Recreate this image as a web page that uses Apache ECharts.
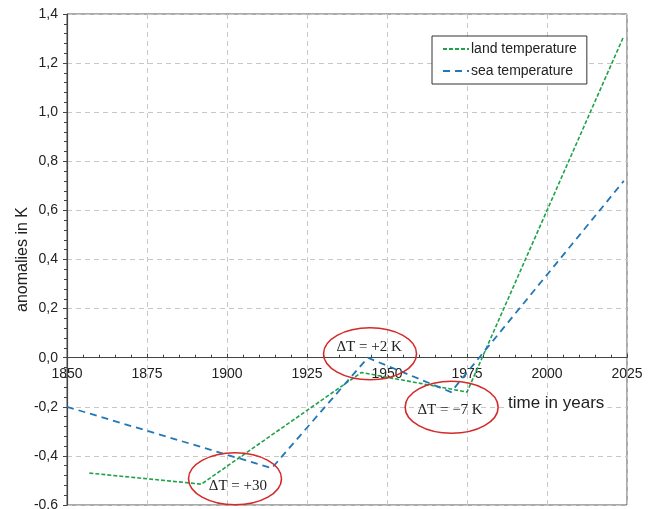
<!DOCTYPE html>
<html><head><meta charset="utf-8">
<script src="https://cdn.jsdelivr.net/npm/echarts@6/dist/echarts.min.js"></script>
<style>html,body{margin:0;padding:0;background:#fff}#c{width:648px;height:509px}</style>
</head><body><div id="c"></div>
<script>
// Data
const landYears  = [1857, 1892, 1942, 1975, 2024];
const landValues = [-0.47, -0.515, -0.06, -0.14, 1.31];
const seaYears   = [1850, 1914, 1944, 1970, 2024];
const seaValues  = [-0.20, -0.45, 0.0, -0.14, 0.72];
const xTicks = [1850, 1875, 1900, 1925, 1950, 1975, 2000, 2025];
const yTicks = [-0.6, -0.4, -0.2, 0.0, 0.2, 0.4, 0.6, 0.8, 1.0, 1.2, 1.4];
// annotations: ellipse centre (year, value) and text anchor
const noteLabels = ['ΔT = +30', 'ΔT = +2 K', 'ΔT = −7 K'];
const noteX      = [1902.5, 1944.7, 1970.2];
const noteY      = [-0.493, 0.016, -0.202];
const noteTextX  = [1903.4, 1944.4, 1969.7];
const noteTextY  = [-0.521, 0.045, -0.212];

const land = landYears.map((x, i) => [x, landValues[i]]);
const sea = seaYears.map((x, i) => [x, seaValues[i]]);
const notes = noteLabels.map((t, i) => [noteX[i], noteY[i], noteTextX[i], noteTextY[i], i]);

const W = 648, H = 509;
const G = {left: 67, right: 21, top: 14, bottom: 4};
const yMin = yTicks[0], yMax = yTicks[yTicks.length - 1];
// move the x axis up so that it crosses the y axis at 0
const gridH = H - G.top - G.bottom;
const xAxisOffset = -gridH * (0 - yMin) / (yMax - yMin);

const chart = echarts.init(document.getElementById('c'));
const F = 'Liberation Sans, Arial, sans-serif';
chart.setOption({
  animation: false,
  backgroundColor: '#fff',
  textStyle: {fontFamily: F},
  grid: Object.assign({outerBoundsMode: 'none', containLabel: false,
         show: true, borderColor: '#555', borderWidth: 1, backgroundColor: 'transparent'}, G),
  legend: {
    orient: 'vertical', left: 432, top: 36,
    data: ['land temperature', 'sea temperature'],
    backgroundColor: '#fff', borderColor: '#333', borderWidth: 1, borderRadius: 0,
    padding: [6, 10, 6, 10], itemGap: 8, itemWidth: 26, itemHeight: 10,
    itemStyle: {opacity: 0},
    textStyle: {fontSize: 14, color: '#222', fontFamily: F, padding: [0, 0, 0, -3]}
  },
  xAxis: {
    type: 'value', min: xTicks[0], max: xTicks[xTicks.length - 1], interval: 25,
    position: 'bottom', offset: xAxisOffset,
    axisLine: {onZero: false, lineStyle: {color: '#444', width: 1.2}},
    axisTick: {show: true, inside: true, length: 4, lineStyle: {color: '#444'}},
    minorTick: {show: true, splitNumber: 5, length: 3, lineStyle: {color: '#444'}},
    axisLabel: {fontSize: 14, color: '#222', margin: 9, fontFamily: F, formatter: v => String(v)},
    splitLine: {show: true, lineStyle: {color: '#c8c8c8', type: [5, 4]}}
  },
  yAxis: {
    type: 'value', min: yMin, max: yMax, interval: 0.2,
    name: 'anomalies in K', nameLocation: 'middle', nameGap: 36, nameRotate: 90, nameMoveOverlap: false,
    nameTextStyle: {fontSize: 16, color: '#222', fontFamily: F},
    axisLine: {show: true, onZero: false, lineStyle: {color: '#444', width: 1.2}},
    axisTick: {show: true, length: 4, lineStyle: {color: '#444'}},
    minorTick: {show: true, splitNumber: 5, length: 3, lineStyle: {color: '#444'}},
    axisLabel: {fontSize: 14, color: '#222', margin: 9, fontFamily: F,
      formatter: v => (Math.abs(v) < 1e-9 ? 0 : v).toFixed(1).replace('.', ',')},
    splitLine: {show: true, lineStyle: {color: '#c8c8c8', type: [5, 4]}}
  },
  graphic: [{
    type: 'text', left: 505, top: 395, z: 50,
    style: {text: 'time in years', fontSize: 17, fontFamily: F, fill: '#222', backgroundColor: '#fff', padding: [0, 3]}
  }],
  series: [
    {name: 'land temperature', type: 'line', data: land, symbol: 'none', z: 3,
     lineStyle: {color: '#1fa24a', width: 1.6, type: [4, 2]}, itemStyle: {color: '#1fa24a'}},
    {name: 'sea temperature', type: 'line', data: sea, symbol: 'none', z: 4,
     lineStyle: {color: '#2277b8', width: 1.8, type: [7, 5]}, itemStyle: {color: '#2277b8'}},
    {name: 'notes', type: 'custom', data: notes, z: 10, clip: false,
     renderItem: (params, api) => {
       const c = api.coord([api.value(0), api.value(1)]);
       const t = api.coord([api.value(2), api.value(3)]);
       const i = api.value(4);
       return {type: 'group', children: [
         {type: 'ellipse', shape: {cx: c[0], cy: c[1], rx: 46.5, ry: 26},
          style: {fill: 'none', stroke: '#d42a2a', lineWidth: 1.6}},
         {type: 'text', style: {x: t[0], y: t[1], text: noteLabels[i], align: 'center', verticalAlign: 'middle',
          fontSize: 15, fontFamily: 'Liberation Serif, Times New Roman, serif', fill: '#222'}}
       ]};
     }}
  ]
});
</script></body></html>
